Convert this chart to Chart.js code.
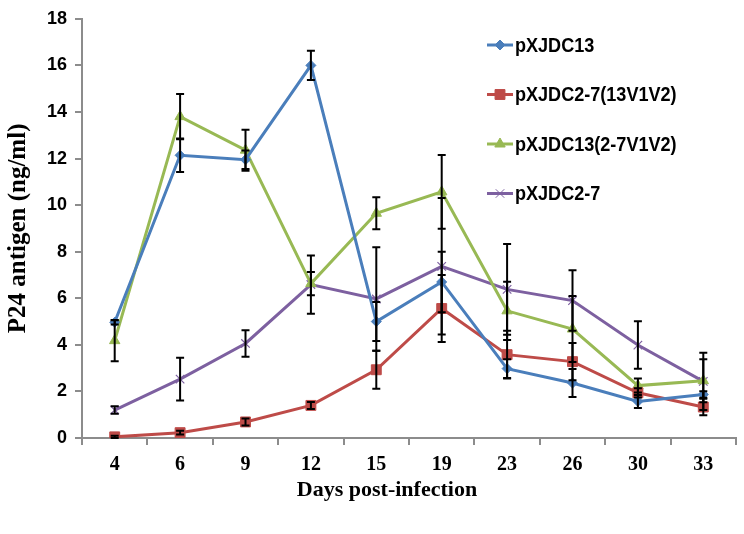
<!DOCTYPE html>
<html>
<head>
<meta charset="utf-8">
<script src="https://cdn.jsdelivr.net/npm/chart.js@4"></script>
<style>
html,body{margin:0;padding:0;background:#fff;}
#wrap{width:744px;height:534px;position:relative;}
</style>
</head>
<body>
<div id="wrap"><canvas id="c" width="744" height="534"></canvas></div>
<script>
const days = ['4','6','9','12','15','19','23','26','30','33'];
const seriesNames = ['pXJDC13','pXJDC2-7(13V1V2)','pXJDC13(2-7V1V2)','pXJDC2-7'];
const pXJDC13 = [4.97,12.14,11.95,16.0,5.0,6.7,2.98,2.36,1.57,1.87];
const pXJDC13Err = [0.1,0.72,0.4,0.63,0.84,1.3,0.4,0.6,0.28,0.14];
const pXJDC27_13V1V2 = [0.05,0.23,0.69,1.4,2.93,5.56,3.58,3.28,1.94,1.33];
const pXJDC27_13V1V2Err = [0.05,0.08,0.15,0.15,0.82,1.44,1.03,0.8,0.2,0.35];
const pXJDC13_27V1V2 = [4.18,13.8,12.36,6.63,9.65,10.57,5.46,4.68,2.25,2.46];
const pXJDC13_27V1V2Err = [0.88,0.97,0.88,0.5,0.69,1.58,1.25,1.42,0.3,0.92];
const pXJDC27 = [1.2,2.53,4.06,6.59,5.97,7.37,6.38,5.9,3.99,2.43];
const pXJDC27Err = [0.16,0.92,0.57,1.25,2.22,2.93,1.95,1.3,1.02,1.23];
const yTicks = [0,2,4,6,8,10,12,14,16,18];

const colors = ['#4A7EBB','#BE4B48','#98B954','#7D60A0'];
const styles = ['rectRot','rect','triangle','crossRot'];
const radii = [5,7,6,6];
const values = [pXJDC13,pXJDC27_13V1V2,pXJDC13_27V1V2,pXJDC27];
const errors = [pXJDC13Err,pXJDC27_13V1V2Err,pXJDC13_27V1V2Err,pXJDC27Err];

const datasets = values.map((v,i)=>({
  label: seriesNames[i],
  data: v,
  errors: errors[i],
  borderColor: colors[i],
  backgroundColor: colors[i],
  pointBackgroundColor: colors[i],
  pointBorderColor: colors[i],
  pointStyle: styles[i],
  pointRadius: radii[i],
  pointBorderWidth: i===3?1.2:1,
  borderWidth: 3,
  tension: 0,
  fill: false
}));

const errorBars = {
  id:'errorBars',
  afterDatasetsDraw(chart){
    const ctx = chart.ctx;
    const ys = chart.scales.y;
    ctx.save();
    ctx.strokeStyle = '#000';
    ctx.lineWidth = 2;
    chart.data.datasets.forEach((ds,i)=>{
      const meta = chart.getDatasetMeta(i);
      meta.data.forEach((pt,j)=>{
        const v = ds.data[j], e = ds.errors[j];
        const t = ys.getPixelForValue(v+e), b = ys.getPixelForValue(v-e);
        const x = pt.x;
        ctx.beginPath();
        ctx.moveTo(x,t); ctx.lineTo(x,b);
        ctx.moveTo(x-4,t); ctx.lineTo(x+4,t);
        ctx.moveTo(x-4,b); ctx.lineTo(x+4,b);
        ctx.stroke();
      });
    });
    ctx.restore();
  }
};

const customLegend = {
  id:'customLegend',
  afterDraw(chart){
    const ctx = chart.ctx;
    ctx.save();
    chart.data.datasets.forEach((ds,i)=>{
      const y = 45 + i*49.5;
      ctx.strokeStyle = ds.borderColor;
      ctx.lineWidth = 3;
      ctx.beginPath(); ctx.moveTo(487,y); ctx.lineTo(513,y); ctx.stroke();
      ctx.fillStyle = ds.pointBackgroundColor;
      ctx.strokeStyle = ds.pointBorderColor;
      ctx.lineWidth = 1;
      Chart.helpers.drawPoint(ctx,{pointStyle:ds.pointStyle,radius:ds.pointRadius,borderWidth:1,rotation:0},500,y);
      ctx.fillStyle = '#000';
      ctx.font = 'bold 21px "Liberation Sans", sans-serif';
      ctx.textBaseline = 'middle';
      ctx.textAlign = 'left';
      ctx.save();
      ctx.translate(515, y+1);
      ctx.scale(0.86, 1);
      ctx.fillText(ds.label, 0, 0);
      ctx.restore();
    });
    ctx.restore();
  }
};

new Chart(document.getElementById('c'),{
  type:'line',
  data:{labels:days, datasets},
  options:{
    responsive:false,
    animation:false,
    devicePixelRatio:1,
    layout:{padding:{top:14,right:4,left:0,bottom:0}},
    plugins:{legend:{display:false},tooltip:{enabled:false}},
    scales:{
      x:{
        type:'category',
        offset:true,
        grid:{offset:true,drawOnChartArea:false,drawTicks:true,tickLength:7,color:'#8c8c8c',lineWidth:2},
        border:{display:true,color:'#8c8c8c',width:2},
        ticks:{color:'#000',font:{family:'"Liberation Serif", serif',weight:'bold',size:20},padding:8,maxRotation:0},
        title:{display:true,text:'Days post-infection\u00A0\u00A0\u00A0\u00A0\u00A0\u00A0\u00A0\u00A0',color:'#000',font:{family:'"Liberation Serif", serif',weight:'bold',size:22},padding:{top:30,bottom:30}},
        afterFit(s){ s.height = 96; }
      },
      y:{
        min:0,max:18,
        afterBuildTicks(s){ s.ticks = yTicks.map(v=>({value:v})); },
        grid:{drawOnChartArea:false,drawTicks:true,tickLength:7,color:'#8c8c8c',lineWidth:2},
        border:{display:true,color:'#8c8c8c',width:2},
        ticks:{color:'#000',font:{family:'"Liberation Sans", sans-serif',weight:'bold',size:18},padding:8},
        title:{display:true,text:'P24 antigen (ng/ml)',color:'#000',font:{family:'"Liberation Serif", serif',weight:'bold',size:25},padding:{top:4,bottom:4}},
        afterFit(s){ s.width = 82; }
      }
    }
  },
  plugins:[errorBars,customLegend]
});
</script>
</body>
</html>
